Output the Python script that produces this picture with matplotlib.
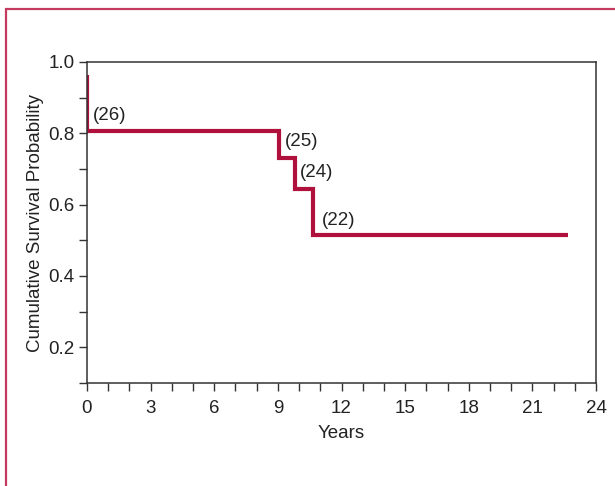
import matplotlib
matplotlib.use("Agg")
import matplotlib.pyplot as plt
from matplotlib.patches import Rectangle
from matplotlib.ticker import MultipleLocator

plt.rcParams['font.family'] = ['Liberation Sans', 'DejaVu Sans']

# survival curve (Kaplan-Meier steps)
years = [0.0, 0.0, 9.05, 9.05, 9.81, 9.81, 10.64, 10.64, 22.66]
survival = [0.963, 0.807, 0.807, 0.732, 0.732, 0.643, 0.643, 0.515, 0.515]

# numbers at risk labels
risk_labels = ["(26)", "(25)", "(24)", "(22)"]
risk_x = [0.28, 9.33, 10.04, 11.08]
risk_y = [0.849, 0.776, 0.689, 0.557]

red = "#b0103c"
grey = "#333333"
fs = 13.5

fig = plt.figure(figsize=(6.15, 4.86), dpi=100)
# frame around the figure panel
fig.patches.append(Rectangle((5.5 / 615, -0.05), 1.2, 1 - 9.0 / 486 + 0.05,
                             transform=fig.transFigure, fill=False,
                             edgecolor="#c43a60", linewidth=1.6))

ax = fig.add_axes([87 / 615, 1 - 383 / 486, (596 - 87) / 615, (383 - 62) / 486])
ax.plot(years, survival, color=red, linewidth=3, solid_capstyle="butt",
        solid_joinstyle="miter")

for lab, x, y in zip(risk_labels, risk_x, risk_y):
    ax.text(x, y, lab, fontsize=fs, color="#222222", ha="left", va="center")

ax.set_xlim(0, 24)
ax.set_ylim(0.1, 1.0)
ax.xaxis.set_major_locator(MultipleLocator(3))
ax.xaxis.set_minor_locator(MultipleLocator(1))
ax.yaxis.set_minor_locator(MultipleLocator(0.1))
ax.set_yticks([0.2, 0.4, 0.6, 0.8, 1.0])
ax.set_yticklabels(["0.2", "0.4", "0.6", "0.8", "1.0"])

for sp in ax.spines.values():
    sp.set_color(grey)
    sp.set_linewidth(1.1)

ax.tick_params(which="both", direction="out", length=6, width=1, color=grey,
               labelsize=fs, labelcolor="#222222")
ax.tick_params(axis="x", pad=6)
ax.tick_params(axis="y", pad=3)

ax.set_xlabel("Years", fontsize=fs, color="#222222", labelpad=6)
ax.set_ylabel("Cumulative Survival Probability", fontsize=fs, color="#222222",
              labelpad=3)

fig.savefig("out.png", dpi=100)
